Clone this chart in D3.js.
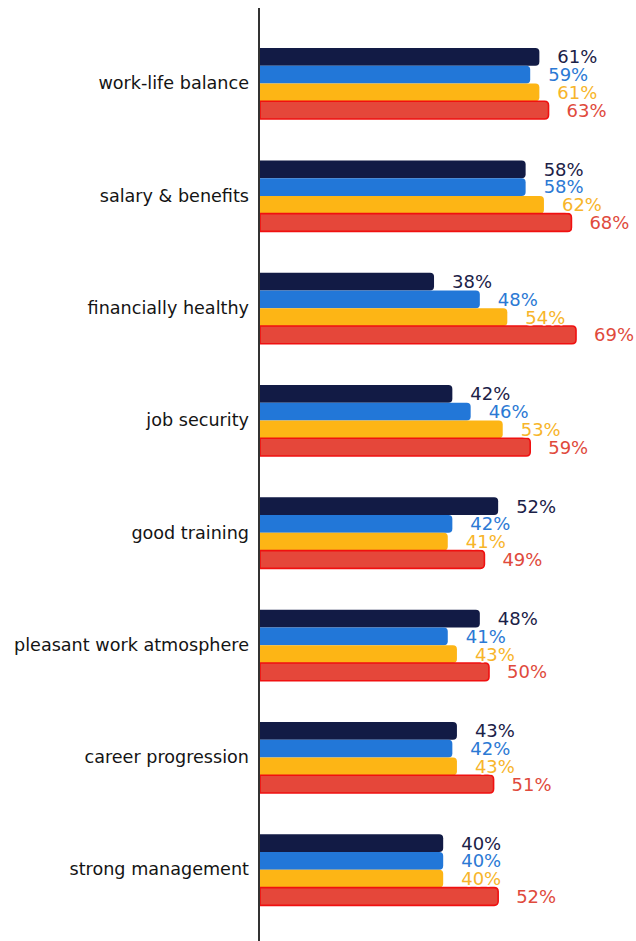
<!DOCTYPE html>
<html>
<head>
<meta charset="utf-8">
<script src="https://cdn.jsdelivr.net/npm/d3@7"></script>
<style>
  html, body { margin: 0; padding: 0; background: #fff; }
  svg { display: block; }
</style>
</head>
<body>
<svg id="chart" width="636" height="941"></svg>
<script>
// Survey answers per attribute, four respondent groups
const categories = [
  "work-life balance",
  "salary & benefits",
  "financially healthy",
  "job security",
  "good training",
  "pleasant work atmosphere",
  "career progression",
  "strong management"
];
const seriesNames = ["group 1", "group 2", "group 3", "group 4"];
const group1 = [61, 58, 38, 42, 52, 48, 43, 40];
const group2 = [59, 58, 48, 46, 42, 41, 42, 40];
const group3 = [61, 62, 54, 53, 41, 43, 43, 40];
const group4 = [63, 68, 69, 59, 49, 50, 51, 52];
const seriesValues = [group1, group2, group3, group4];
const fills = ["#121b45", "#2277d8", "#fdb515", "#e5473a"];
const labelColors = ["#1b2147", "#2b79d4", "#f7b52a", "#e04a3c"];

const svg = d3.select("#chart");
const axisX = 259;

const x = d3.scaleLinear().domain([0, 82.1]).range([axisX + 1, 636]);
const y = d3.scaleBand().domain(categories).range([27.4, 926])
  .paddingInner(0.368).paddingOuter(0.184);
const ys = d3.scaleBand().domain(seriesNames).range([0, y.bandwidth()]).padding(0);

const rows = categories.map((c, i) => ({
  cat: c,
  vals: seriesNames.map((s, k) => ({ s, k, v: seriesValues[k][i] }))
}));

// bar shape: square on the axis side, rounded on the value end
function barPath(x0, y0, x1, h, r) {
  r = Math.min(r, h / 2, x1 - x0);
  return `M${x0},${y0}H${x1 - r}Q${x1},${y0} ${x1},${y0 + r}V${y0 + h - r}Q${x1},${y0 + h} ${x1 - r},${y0 + h}H${x0}Z`;
}

const g = svg.selectAll("g.row").data(rows).join("g")
  .attr("class", "row")
  .attr("transform", d => `translate(0,${y(d.cat)})`);

g.selectAll("path.bar").data(d => d.vals).join("path")
  .attr("class", "bar")
  .attr("d", d => barPath(x(0), ys(d.s), x(d.v), ys.bandwidth(), 4))
  .attr("fill", d => fills[d.k])
  .attr("stroke", d => d.k === 3 ? "#f01010" : "none")
  .attr("stroke-width", d => d.k === 3 ? 1.6 : 0);

g.selectAll("text.val").data(d => d.vals).join("text")
  .attr("class", "val")
  .attr("x", d => x(d.v) + 18)
  .attr("y", d => ys(d.s) + ys.bandwidth() / 2)
  .attr("dy", "0.36em")
  .attr("font-family", "DejaVu Sans, Verdana, sans-serif")
  .attr("font-size", 18)
  .attr("fill", d => labelColors[d.k])
  .attr("stroke", "#fff")
  .attr("stroke-width", 3)
  .attr("stroke-linejoin", "round")
  .attr("paint-order", "stroke")
  .text(d => d.v + "%");

// category axis
const yAxis = d3.axisLeft(y).tickSize(0).tickPadding(10);
const ax = svg.append("g").attr("transform", `translate(${axisX},0)`).call(yAxis);
ax.select(".domain").remove();
ax.selectAll("text")
  .attr("font-family", "DejaVu Sans, Verdana, sans-serif")
  .attr("font-size", 17.6)
  .attr("fill", "#141414");

svg.append("line")
  .attr("x1", axisX).attr("x2", axisX)
  .attr("y1", 8).attr("y2", 941)
  .attr("stroke", "#333").attr("stroke-width", 2);
</script>
</body>
</html>
